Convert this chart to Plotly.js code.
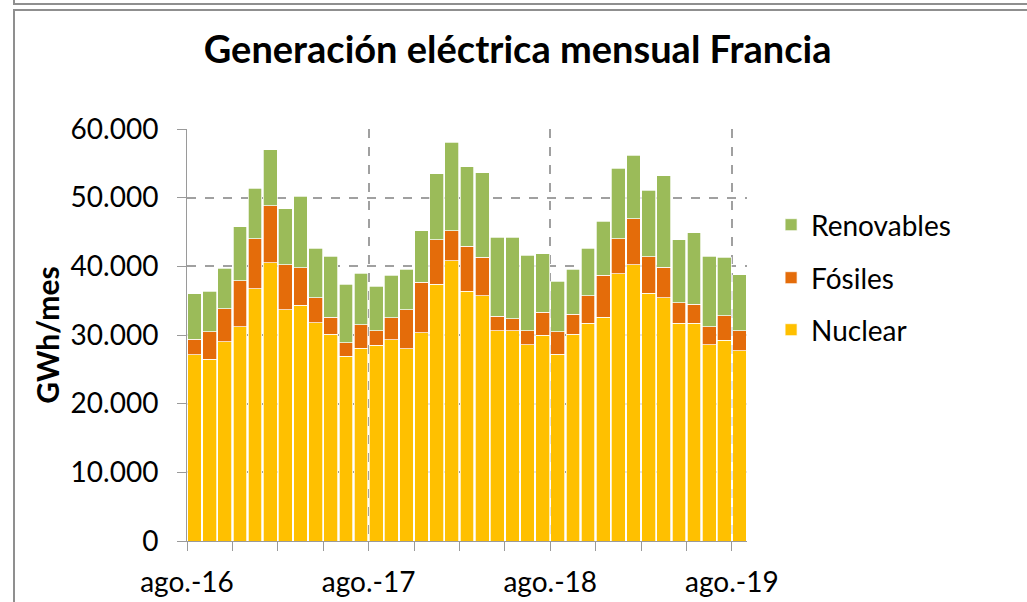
<!DOCTYPE html>
<html>
<head>
<meta charset="utf-8">
<script src="https://cdn.plot.ly/plotly-3.0.1.min.js"></script>
<style>
  html, body { margin: 0; padding: 0; background: #ffffff; }
  #wrap { position: relative; width: 1027px; height: 602px; overflow: hidden; }
  #chart { position: absolute; left: 0; top: 0; width: 1027px; height: 602px; }
  .frame { position: absolute; background: #8f8f8f; pointer-events: none; }
</style>
</head>
<body>
<div id="wrap">
  <div id="chart"></div>
  <div class="frame" style="left:13px; top:0px; width:2px; height:4px;"></div>
  <div class="frame" style="left:13px; top:3px; width:1014px; height:2px;"></div>
  <div class="frame" style="left:13px; top:9px; width:1014px; height:2px;"></div>
  <div class="frame" style="left:13px; top:9px; width:2px; height:593px;"></div>
</div>
<script>
const months = [
  "ago.-16","sep.-16","oct.-16","nov.-16","dic.-16","ene.-17","feb.-17","mar.-17","abr.-17","may.-17","jun.-17","jul.-17",
  "ago.-17","sep.-17","oct.-17","nov.-17","dic.-17","ene.-18","feb.-18","mar.-18","abr.-18","may.-18","jun.-18","jul.-18",
  "ago.-18","sep.-18","oct.-18","nov.-18","dic.-18","ene.-19","feb.-19","mar.-19","abr.-19","may.-19","jun.-19","jul.-19",
  "ago.-19"
];
const nuclear = [27100,26500,29000,31200,36700,40500,33700,34300,31800,30100,26900,28100,
  28500,29300,28000,30300,37400,40800,36400,35700,30600,30600,28600,30000,
  27200,30100,31700,32600,38900,40200,36100,35400,31700,31700,28600,29200,
  27700];
const fosiles = [2300,4000,4800,6700,7300,8300,6500,5500,3600,2500,2000,3400,
  2100,3200,5700,7400,6500,4400,6500,5600,2100,1800,2000,3300,
  3300,2900,4000,6100,5100,6700,5300,4500,3000,2800,2600,3600,
  2900];
const renovables = [6600,5900,5900,7900,7400,8200,8200,10400,7200,8900,8500,7500,
  6500,6200,5900,7500,9600,12900,11600,12300,11500,11800,11000,8500,
  7300,6600,6900,7900,10300,9300,9700,13300,9200,10400,10300,8500,
  8200];
const seriesNames = ["Nuclear", "Fósiles", "Renovables"];
const labelEvery = 12;

const xpos = months.map((m, i) => i + 0.5);
const tickIdx = months.map((m, i) => i).filter(i => i % labelEvery === 0);

const FONT = "Lato, 'Open Sans', sans-serif";
const barLine = { color: "rgba(255,255,255,0.9)", width: 0.8 };

const traces = [
  { type: "bar", name: seriesNames[0], x: xpos, y: nuclear, text: months,
    marker: { color: "#FFC000", line: barLine }, legend: "legend3",
    hovertemplate: "%{text}: %{y}<extra>Nuclear</extra>" },
  { type: "bar", name: seriesNames[1], x: xpos, y: fosiles, text: months,
    marker: { color: "#E46C0A", line: barLine }, legend: "legend2",
    hovertemplate: "%{text}: %{y}<extra>Fósiles</extra>" },
  { type: "bar", name: seriesNames[2], x: xpos, y: renovables, text: months,
    marker: { color: "#9BBB59", line: barLine }, legend: "legend",
    hovertemplate: "%{text}: %{y}<extra>Renovables</extra>" }
];
traces.forEach(t => { t.textposition = "none"; });

const legendBase = (yv) => ({
  x: 1.043, xanchor: "left", y: yv, yanchor: "middle",
  font: { family: FONT, size: 28, color: "#000000" },
  bgcolor: "rgba(0,0,0,0)", borderwidth: 0
});

const layout = {
  width: 1027, height: 602,
  margin: { l: 187, r: 280, t: 129, b: 61, pad: 0 },
  paper_bgcolor: "rgba(0,0,0,0)",
  plot_bgcolor: "rgba(0,0,0,0)",
  separators: ",.",
  barmode: "stack",
  bargap: 0.09,
  showlegend: true,
  font: { family: FONT, color: "#000000" },
  title: {
    text: "Generación eléctrica mensual Francia",
    font: { family: FONT, size: 38, weight: 700, color: "#000000" },
    xref: "container", x: 0.504, xanchor: "center",
    yref: "container", y: 1 - 50 / 602, yanchor: "middle"
  },
  xaxis: {
    range: [0, months.length],
    tickmode: "array",
    tickvals: tickIdx,
    ticktext: tickIdx.map(i => months[i]),
    ticks: "outside", ticklen: 9, tickwidth: 1, tickcolor: "#9a9a9a",
    ticklabelstandoff: 7,
    tickfont: { family: FONT, size: 28, color: "#000000" },
    showline: true, linecolor: "#9a9a9a", linewidth: 1,
    showgrid: true, gridcolor: "#a0a0a0", gridwidth: 1.5, griddash: "dash",
    zeroline: false,
    minor: { dtick: 3, tick0: 0, ticks: "outside", ticklen: 9, tickwidth: 1,
             tickcolor: "#9a9a9a", showgrid: false },
    fixedrange: true
  },
  yaxis: {
    range: [0, 60000],
    dtick: 10000, tick0: 0,
    tickformat: ",d",
    ticks: "outside", ticklen: 9, tickwidth: 1, tickcolor: "#9a9a9a",
    ticklabelstandoff: 13,
    tickfont: { family: FONT, size: 28, color: "#000000" },
    showline: true, linecolor: "#9a9a9a", linewidth: 1,
    showgrid: true, gridcolor: "#a0a0a0", gridwidth: 1.5, griddash: "dash",
    zeroline: false,
    title: { text: "GWh/mes", standoff: 2,
             font: { family: FONT, size: 30, weight: 700, color: "#000000" } },
    fixedrange: true
  },
  legend: legendBase((541 - 225) / 412),
  legend2: legendBase((541 - 278) / 412),
  legend3: legendBase((541 - 330) / 412)
};

Plotly.newPlot("chart", traces, layout, { displayModeBar: false });
</script>
</body>
</html>
